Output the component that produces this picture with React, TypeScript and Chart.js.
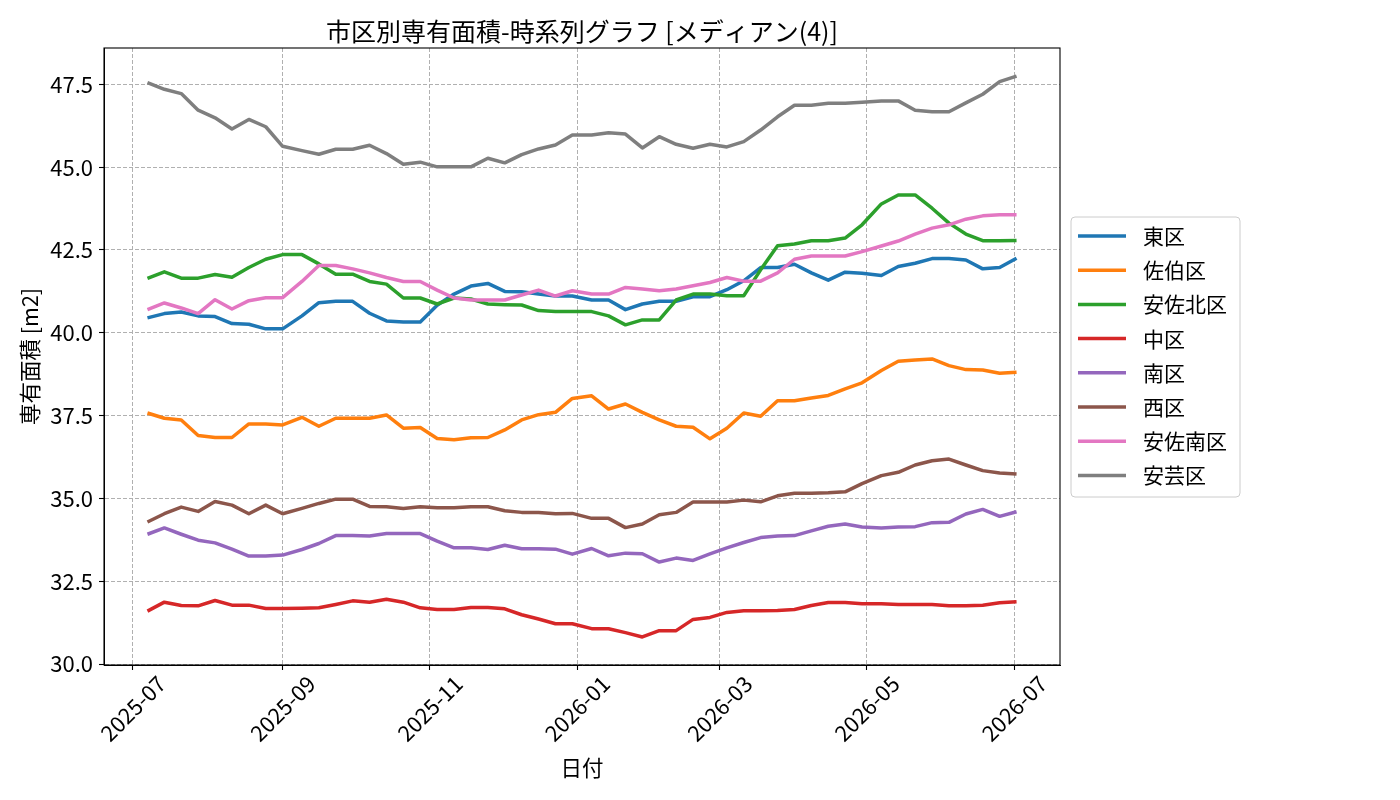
import React, { useEffect, useRef } from "react";
import { Chart, registerables } from "chart.js";

Chart.register(...registerables);

// ---- data ----
const dates = [
  "2025-07-07", "2025-07-14", "2025-07-21", "2025-07-28", "2025-08-04", "2025-08-11", "2025-08-18", "2025-08-25",
  "2025-09-01", "2025-09-09", "2025-09-16", "2025-09-23", "2025-09-30", "2025-10-07", "2025-10-14", "2025-10-21",
  "2025-10-28", "2025-11-04", "2025-11-11", "2025-11-18", "2025-11-25", "2025-12-02", "2025-12-09", "2025-12-16",
  "2025-12-23", "2025-12-30", "2026-01-07", "2026-01-14", "2026-01-21", "2026-01-28", "2026-02-04", "2026-02-11",
  "2026-02-18", "2026-02-25", "2026-03-04", "2026-03-11", "2026-03-18", "2026-03-25", "2026-04-01", "2026-04-08",
  "2026-04-15", "2026-04-22", "2026-04-29", "2026-05-07", "2026-05-14", "2026-05-21", "2026-05-28", "2026-06-04",
  "2026-06-11", "2026-06-18", "2026-06-25", "2026-07-02",
];

const districts = ["東区", "佐伯区", "安佐北区", "中区", "南区", "西区", "安佐南区", "安芸区"];

const higashi = [40.45, 40.58, 40.63, 40.51, 40.49, 40.28, 40.26, 40.12, 40.12, 40.51, 40.91, 40.95, 40.95, 40.59, 40.36, 40.33, 40.33, 40.83, 41.17, 41.41, 41.49, 41.25, 41.24, 41.17, 41.11, 41.11, 40.99, 40.99, 40.70, 40.87, 40.95, 40.95, 41.09, 41.09, 41.30, 41.57, 41.97, 41.97, 42.07, 41.81, 41.59, 41.83, 41.80, 41.73, 42.00, 42.10, 42.24, 42.24, 42.20, 41.93, 41.97, 42.25];
const saeki = [37.58, 37.42, 37.37, 36.90, 36.84, 36.84, 37.25, 37.25, 37.22, 37.45, 37.18, 37.42, 37.42, 37.42, 37.52, 37.12, 37.14, 36.81, 36.77, 36.83, 36.84, 37.07, 37.37, 37.53, 37.60, 38.02, 38.10, 37.70, 37.85, 37.60, 37.37, 37.18, 37.15, 36.80, 37.12, 37.58, 37.48, 37.95, 37.95, 38.03, 38.11, 38.31, 38.49, 38.86, 39.14, 39.18, 39.21, 39.01, 38.89, 38.88, 38.78, 38.81];
const asakita = [41.64, 41.84, 41.65, 41.65, 41.76, 41.68, 41.97, 42.22, 42.36, 42.36, 42.08, 41.77, 41.77, 41.55, 41.47, 41.05, 41.05, 40.87, 41.05, 41.02, 40.87, 40.85, 40.84, 40.67, 40.64, 40.64, 40.64, 40.51, 40.24, 40.39, 40.39, 40.99, 41.17, 41.17, 41.12, 41.12, 41.90, 42.63, 42.68, 42.78, 42.78, 42.86, 43.26, 43.89, 44.16, 44.16, 43.76, 43.31, 42.98, 42.78, 42.78, 42.79];
const naka = [31.60, 31.87, 31.77, 31.76, 31.92, 31.78, 31.78, 31.68, 31.68, 31.69, 31.70, 31.80, 31.91, 31.87, 31.96, 31.87, 31.70, 31.65, 31.65, 31.71, 31.71, 31.67, 31.49, 31.36, 31.22, 31.22, 31.07, 31.07, 30.95, 30.82, 31.01, 31.01, 31.35, 31.41, 31.56, 31.61, 31.61, 31.62, 31.65, 31.77, 31.86, 31.86, 31.82, 31.82, 31.80, 31.80, 31.80, 31.76, 31.76, 31.78, 31.85, 31.88];
const minami = [33.92, 34.11, 33.92, 33.74, 33.66, 33.47, 33.26, 33.26, 33.29, 33.46, 33.64, 33.88, 33.88, 33.87, 33.94, 33.94, 33.94, 33.71, 33.51, 33.51, 33.46, 33.59, 33.48, 33.48, 33.47, 33.32, 33.49, 33.27, 33.35, 33.33, 33.08, 33.20, 33.13, 33.33, 33.51, 33.67, 33.82, 33.87, 33.88, 34.02, 34.16, 34.23, 34.14, 34.11, 34.14, 34.15, 34.27, 34.28, 34.53, 34.67, 34.46, 34.60];
const nishi = [34.29, 34.54, 34.74, 34.61, 34.91, 34.80, 34.54, 34.80, 34.54, 34.70, 34.85, 34.98, 34.98, 34.76, 34.75, 34.70, 34.75, 34.72, 34.72, 34.75, 34.75, 34.63, 34.58, 34.58, 34.54, 34.55, 34.40, 34.40, 34.12, 34.23, 34.51, 34.58, 34.89, 34.89, 34.89, 34.95, 34.90, 35.08, 35.16, 35.16, 35.17, 35.20, 35.45, 35.69, 35.79, 36.01, 36.14, 36.19, 36.01, 35.84, 35.77, 35.74];
const asaminami = [40.70, 40.90, 40.75, 40.58, 41.00, 40.72, 40.97, 41.06, 41.06, 41.55, 42.03, 42.03, 41.93, 41.81, 41.67, 41.55, 41.55, 41.29, 41.05, 40.99, 40.99, 40.99, 41.14, 41.29, 41.11, 41.27, 41.17, 41.17, 41.37, 41.32, 41.27, 41.32, 41.42, 41.52, 41.67, 41.56, 41.56, 41.81, 42.22, 42.32, 42.32, 42.32, 42.45, 42.62, 42.77, 42.98, 43.16, 43.26, 43.43, 43.53, 43.56, 43.56];
const aki = [47.55, 47.35, 47.22, 46.72, 46.49, 46.15, 46.44, 46.22, 45.63, 45.50, 45.39, 45.54, 45.54, 45.66, 45.41, 45.09, 45.15, 45.01, 45.01, 45.01, 45.27, 45.13, 45.38, 45.55, 45.67, 45.97, 45.97, 46.04, 46.00, 45.58, 45.92, 45.69, 45.57, 45.69, 45.61, 45.77, 46.12, 46.52, 46.87, 46.87, 46.93, 46.93, 46.96, 47.00, 47.00, 46.72, 46.67, 46.67, 46.94, 47.20, 47.58, 47.75];

const seriesValues = [higashi, saeki, asakita, naka, minami, nishi, asaminami, aki];
const colors = ["#1f77b4", "#ff7f0e", "#2ca02c", "#d62728", "#9467bd", "#8c564b", "#e377c2", "#7f7f7f"];

const xTickDates = ["2025-07-01", "2025-09-01", "2025-11-01", "2026-01-01", "2026-03-01", "2026-05-01", "2026-07-01"];
const xTickLabels = ["2025-07", "2025-09", "2025-11", "2026-01", "2026-03", "2026-05", "2026-07"];
const yTicks = [30.0, 32.5, 35.0, 37.5, 40.0, 42.5, 45.0, 47.5];

const titleText = "市区別専有面積-時系列グラフ [メディアン(4)]";
const xTitle = "日付";
const yTitle = "専有面積 [m2]";

// ---- helpers ----
const FONT = '"Noto Sans CJK JP", "Noto Sans", sans-serif';
const ORIGIN = Date.parse("2025-07-01T00:00:00Z");
const toDay = (s: string) => (Date.parse(s + "T00:00:00Z") - ORIGIN) / 86400000;

const xs = dates.map(toDay);
const xLo = Math.min(...xs), xHi = Math.max(...xs);
const xPad = (xHi - xLo) * 0.05;
const allY = seriesValues.flat();
const yLo = Math.min(...allY), yHi = Math.max(...allY);
const yPad = (yHi - yLo) * 0.05;

const W = 1400, H = 800;
const PLOT = { left: 104, top: 48, right: 1060, bottom: 665 };
const TICK_FONT = 22;

const decorPlugin = {
  id: "decor",
  afterDraw(chart: any) {
    const ctx = chart.ctx as CanvasRenderingContext2D;
    const ca = chart.chartArea;
    const xs2 = chart.scales.x;
    ctx.save();
    // frame
    ctx.strokeStyle = "#000";
    ctx.lineWidth = 1.1;
    ctx.setLineDash([]);
    ctx.strokeRect(ca.left, ca.top, ca.right - ca.left, ca.bottom - ca.top);

    ctx.fillStyle = "#000";
    // title
    ctx.font = `25px ${FONT}`;
    ctx.textAlign = "center";
    ctx.textBaseline = "middle";
    ctx.fillText(titleText, (ca.left + ca.right) / 2, 31);

    // x tick labels rotated 45deg, bbox centered on tick
    ctx.font = `${TICK_FONT}px ${FONT}`;
    xTickDates.forEach((d, i) => {
      const px = xs2.getPixelForValue(toDay(d));
      const w = ctx.measureText(xTickLabels[i]).width;
      const h = TICK_FONT;
      const bb = (w + h) / Math.SQRT2;
      ctx.save();
      ctx.translate(px, ca.bottom + 7 + bb / 2);
      ctx.rotate(-Math.PI / 4);
      ctx.textAlign = "center";
      ctx.textBaseline = "middle";
      ctx.fillText(xTickLabels[i], 0, 0);
      ctx.restore();
    });

    // axis titles
    ctx.font = `21.5px ${FONT}`;
    ctx.textAlign = "center";
    ctx.textBaseline = "middle";
    ctx.fillText(xTitle, (ca.left + ca.right) / 2, 768);
    ctx.save();
    ctx.translate(30, (ca.top + ca.bottom) / 2);
    ctx.rotate(-Math.PI / 2);
    ctx.fillText(yTitle, 0, 0);
    ctx.restore();

    // legend
    const lx = 1071, ly = 217, lw = 169, lh = 280, r = 4;
    ctx.beginPath();
    ctx.moveTo(lx + r, ly);
    ctx.lineTo(lx + lw - r, ly);
    ctx.arcTo(lx + lw, ly, lx + lw, ly + r, r);
    ctx.lineTo(lx + lw, ly + lh - r);
    ctx.arcTo(lx + lw, ly + lh, lx + lw - r, ly + lh, r);
    ctx.lineTo(lx + r, ly + lh);
    ctx.arcTo(lx, ly + lh, lx, ly + lh - r, r);
    ctx.lineTo(lx, ly + r);
    ctx.arcTo(lx, ly, lx + r, ly, r);
    ctx.closePath();
    ctx.fillStyle = "rgba(255,255,255,0.8)";
    ctx.fill();
    ctx.strokeStyle = "#cccccc";
    ctx.lineWidth = 1;
    ctx.stroke();

    ctx.font = `21px ${FONT}`;
    ctx.textAlign = "left";
    ctx.textBaseline = "middle";
    districts.forEach((name, i) => {
      const y = 236 + i * 34.2;
      ctx.strokeStyle = colors[i];
      ctx.lineWidth = 3.5;
      ctx.beginPath();
      ctx.moveTo(1078, y);
      ctx.lineTo(1126, y);
      ctx.stroke();
      ctx.fillStyle = "#000";
      ctx.fillText(name, 1143, y);
    });
    ctx.restore();
  },
};

export default function App() {
  const ref = useRef<HTMLCanvasElement | null>(null);
  useEffect(() => {
    if (!ref.current) return;
    const gridCommon = {
      color: "#b0b0b0",
      lineWidth: 1,
      drawTicks: true,
      tickLength: 5,
      tickColor: "#000",
      tickWidth: 1.1,
    };
    const chart = new Chart(ref.current, {
      type: "line",
      data: {
        datasets: districts.map((name, i) => ({
          label: name,
          data: seriesValues[i].map((v, j) => ({ x: xs[j], y: v })),
          borderColor: colors[i],
          backgroundColor: colors[i],
          borderWidth: 3.5,
          pointRadius: 0,
          tension: 0,
          fill: false,
          borderJoinStyle: "round",
          borderCapStyle: "butt",
          order: districts.length - i,
        })),
      },
      options: {
        responsive: false,
        animation: false,
        devicePixelRatio: 1,
        layout: { padding: { left: 0, top: PLOT.top, right: W - PLOT.right, bottom: 0 } },
        plugins: { legend: { display: false }, tooltip: { enabled: false }, title: { display: false } },
        scales: {
          x: {
            type: "linear",
            min: xLo - xPad,
            max: xHi + xPad,
            afterBuildTicks: (s: any) => {
              s.ticks = xTickDates.map((d) => ({ value: toDay(d) }));
            },
            afterFit: (s: any) => {
              s.height = H - PLOT.bottom;
            },
            ticks: { display: false },
            grid: gridCommon,
            border: { display: true, color: "#000", width: 1, dash: [4, 2] },
          },
          y: {
            type: "linear",
            min: yLo - yPad,
            max: yHi + yPad,
            afterBuildTicks: (s: any) => {
              s.ticks = yTicks.map((v) => ({ value: v }));
            },
            afterFit: (s: any) => {
              s.width = PLOT.left;
            },
            ticks: {
              color: "#000",
              padding: 6,
              font: { family: FONT, size: TICK_FONT },
              callback: (v: any) => Number(v).toFixed(1),
            },
            grid: gridCommon,
            border: { display: true, color: "#000", width: 1, dash: [4, 2] },
          },
        },
      },
      plugins: [decorPlugin],
    } as any);
    return () => chart.destroy();
  }, []);
  return (
    <div style={{ position: "absolute", left: 0, top: 0, width: W, height: H, background: "#fff" }}>
      <canvas ref={ref} width={W} height={H} style={{ width: W, height: H, display: "block" }} />
    </div>
  );
}
